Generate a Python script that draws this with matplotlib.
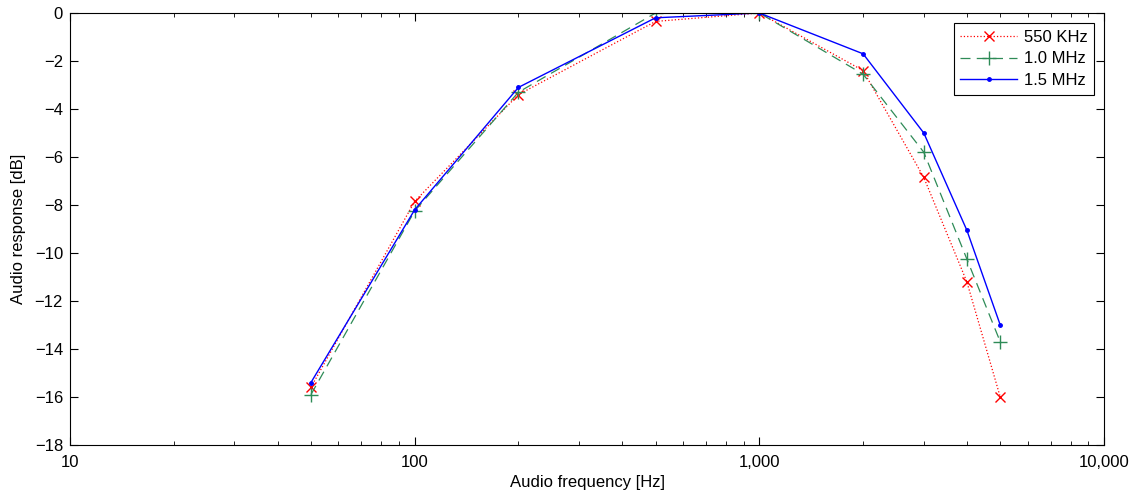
import matplotlib
matplotlib.use("Agg")
import matplotlib.pyplot as plt
from matplotlib.ticker import FuncFormatter, LogLocator, NullFormatter

plt.rcParams["font.family"] = ["Liberation Sans", "DejaVu Sans"]

# Datos
frecuencias = [50, 100, 200, 500, 1000, 2000, 3000, 4000, 5000]
resp_550k = [-15.6, -7.85, -3.4, -0.35, 0.0, -2.4, -6.85, -11.2, -16.0]
resp_1m = [-15.9, -8.25, -3.3, 0.0, 0.0, -2.55, -5.8, -10.25, -13.7]
resp_15m = [-15.4, -8.2, -3.1, -0.2, 0.0, -1.7, -5.0, -9.05, -13.0]

fuente = 12

fig = plt.figure(figsize=(11.41, 4.95), dpi=100)
ax = fig.add_axes([70 / 1141, 1 - 445 / 495, 1034 / 1141, 432 / 495])

ax.plot(frecuencias, resp_550k, color="red", linestyle=":", marker="x",
        markersize=7, linewidth=0.9, label="550 KHz")
ax.plot(frecuencias, resp_1m, color="#2E8B57", linestyle=(0, (8, 5)), marker="+",
        markersize=10, linewidth=0.9, label="1.0 MHz")
ax.plot(frecuencias, resp_15m, color="blue", linestyle="-", marker=".",
        markersize=5, linewidth=1.0, label="1.5 MHz")

ax.set_xscale("log")
ax.set_xlim(10, 10000)
ax.set_ylim(-18, 0)
ax.set_yticks(range(-18, 1, 2))
ax.xaxis.set_major_locator(LogLocator(base=10))
ax.xaxis.set_major_formatter(FuncFormatter(lambda v, p: f"{v:,.0f}"))
ax.xaxis.set_minor_locator(LogLocator(base=10, subs=range(2, 10)))
ax.xaxis.set_minor_formatter(NullFormatter())

ax.tick_params(which="both", direction="in", top=True, right=True,
               labelsize=fuente)
ax.tick_params(axis="x", which="both", pad=7)
ax.tick_params(axis="y", which="both", pad=5)
ax.tick_params(which="major", length=6)
ax.tick_params(which="minor", length=3)

ax.set_xlabel("Audio frequency [Hz]", fontsize=fuente, labelpad=4)
ax.set_ylabel("Audio response [dB]", fontsize=fuente, labelpad=6)

leg = ax.legend(loc="upper right", fontsize=fuente, fancybox=False,
                edgecolor="black", framealpha=1, borderaxespad=0.6,
                handlelength=3.4, handletextpad=0.4, labelspacing=0.4,
                borderpad=0.4)
leg.get_frame().set_linewidth(0.8)

fig.savefig("out.png", dpi=100)
